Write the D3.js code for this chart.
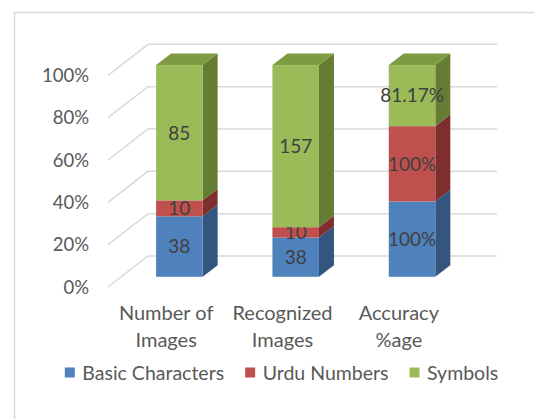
<!DOCTYPE html>
<html>
<head>
<meta charset="utf-8">
<script src="https://cdn.jsdelivr.net/npm/d3@7"></script>
<style>
  body { margin: 0; background: #fff; }
  svg { display: block; font-family: Lato, "Open Sans", sans-serif; }
</style>
</head>
<body>
<div class="canvas"></div>
<script>
const categories = [['Number of', 'Images'], ['Recognized', 'Images'], ['Accuracy', '%age']]
const seriesNames = ['Basic Characters', 'Urdu Numbers', 'Symbols']
const basicChars = [38, 38, 100]
const urduNumbers = [10, 10, 100]
const symbols = [85, 157, 81.17]
const labelSuffix = ['', '', '%']
const yTicks = [0, 0.2, 0.4, 0.6, 0.8, 1]

const colors = [
  {front: '#4F81BD', side: '#34557D', top: '#4671A6'},
  {front: '#C0504D', side: '#7E2F2D', top: '#A84541'},
  {front: '#9BBB59', side: '#647D33', top: '#7D9C42'}
]

const width = 534
const height = 419
// back wall of the 3D plot, and how far the front plane sits from it
const wall = {left: 148, right: 497, top: 44.3, bottom: 256}
const depth = {dx: -40, dy: 31}
const barFront = 0.67
const barBack = 0.295

const series = [basicChars, urduNumbers, symbols]
const keys = categories.map((c, i) => i)

const x = d3.scaleBand()
  .domain(keys)
  .range([wall.left, wall.right])
  .paddingInner(0.6)
  .paddingOuter(0.3)

const y = d3.scaleLinear()
  .domain([0, 1])
  .range([wall.bottom, wall.top])

const shift = (px, py, z) => [px + depth.dx * z, py + depth.dy * z]

const svg = d3.select('.canvas')
  .append('svg')
  .attr('width', width)
  .attr('height', height)

// chart frame
svg.append('rect')
  .attr('x', 14.5)
  .attr('y', 12.5)
  .attr('width', 600)
  .attr('height', 600)
  .attr('fill', '#fff')
  .attr('stroke', '#D9D9D9')
  .attr('stroke-width', 1.5)

// gridlines: back wall + left wall diagonal
const grid = svg.append('g')
  .attr('stroke', '#D9D9D9')
  .attr('stroke-width', 1.5)
  .attr('fill', 'none')

yTicks.forEach(t => {
  const yy = y(t)
  const [fx, fy] = shift(wall.left, yy, 1)
  grid.append('path')
    .attr('d', `M${fx},${fy}L${wall.left},${yy}L${wall.right},${yy}`)
})

svg.append('g')
  .selectAll('text')
  .data(yTicks)
  .join('text')
  .attr('x', 89)
  .attr('y', d => y(d) + depth.dy)
  .attr('dy', '0.36em')
  .attr('text-anchor', 'end')
  .attr('fill', '#595959')
  .attr('font-size', 18.5)
  .text(d3.format('.0%'))

// stacked (100%) segments
const stacked = keys.map(i => {
  const total = d3.sum(series, s => s[i])
  let acc = 0
  return series.map((s, k) => {
    const y0 = acc / total
    acc += s[i]
    return {cat: i, k, value: s[i], y0, y1: acc / total}
  })
})

const bars = svg.append('g')
const poly = pts => 'M' + pts.map(p => p.join(',')).join('L') + 'Z'

stacked.forEach(segs => {
  const g = bars.append('g')
  segs.forEach((d, n) => {
    const xl = x(d.cat)
    const xr = xl + x.bandwidth()
    const yb = y(d.y0)
    const yt = y(d.y1)
    const c = colors[d.k]
    // side face
    g.append('path')
      .attr('fill', c.side)
      .attr('d', poly([shift(xr, yb, barFront), shift(xr, yb, barBack), shift(xr, yt, barBack), shift(xr, yt, barFront)]))
    // front face
    const [fxl, fyt] = shift(xl, yt, barFront)
    const [fxr, fyb] = shift(xr, yb, barFront)
    g.append('rect')
      .attr('x', fxl)
      .attr('y', fyt)
      .attr('width', fxr - fxl)
      .attr('height', fyb - fyt)
      .attr('fill', c.front)
    if (n === segs.length - 1) {
      g.append('path')
        .attr('fill', c.top)
        .attr('d', poly([shift(xl, yt, barFront), shift(xr, yt, barFront), shift(xr, yt, barBack), shift(xl, yt, barBack)]))
    }
    g.append('text')
      .attr('x', (fxl + fxr) / 2)
      .attr('y', (fyt + fyb) / 2)
      .attr('dy', '0.36em')
      .attr('text-anchor', 'middle')
      .attr('fill', '#404040')
      .attr('font-size', 19)
      .text(d.value + labelSuffix[d.cat])
  })
})

// category labels on the front plane
svg.append('g')
  .selectAll('text')
  .data(keys)
  .join('text')
  .attr('x', d => x(d) + x.bandwidth() / 2 + depth.dx)
  .attr('y', 312.5)
  .attr('text-anchor', 'middle')
  .attr('fill', '#595959')
  .attr('font-size', 20)
  .selectAll('tspan')
  .data(d => categories[d])
  .join('tspan')
  .attr('x', function () { return this.parentNode.getAttribute('x') })
  .attr('dy', (d, i) => i === 0 ? '0.36em' : 27)
  .text(d => d)

// legend
const legend = svg.append('g')
const items = seriesNames.map((name, k) => {
  const item = legend.append('g')
  item.append('rect')
    .attr('width', 10)
    .attr('height', 10)
    .attr('y', -5)
    .attr('fill', colors[k].front)
  const t = item.append('text')
    .attr('x', 17.5)
    .attr('dy', '0.36em')
    .attr('fill', '#595959')
    .attr('font-size', 19.5)
    .text(name)
  return {item, w: 17.5 + t.node().getComputedTextLength()}
})
const gap = 21
const totalW = d3.sum(items, d => d.w) + gap * (items.length - 1)
let lx = 281.5 - totalW / 2
items.forEach(d => {
  d.item.attr('transform', `translate(${lx}, 372.5)`)
  lx += d.w + gap
})
</script>
</body>
</html>
